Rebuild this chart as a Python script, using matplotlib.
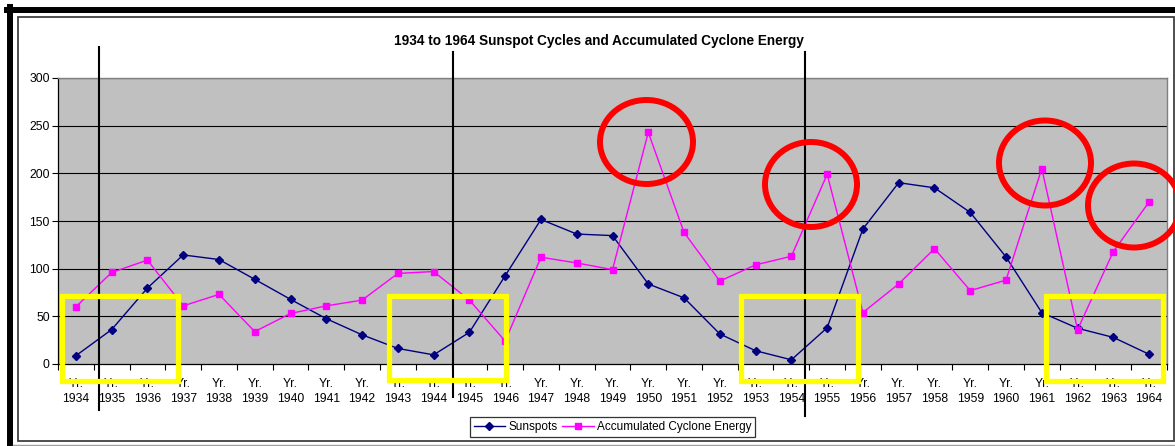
import matplotlib
matplotlib.use("Agg")
import matplotlib.pyplot as plt
from matplotlib.patches import Rectangle, Ellipse
from matplotlib.lines import Line2D

years = list(range(1934, 1965))
tick_labels = [f"Yr.\n{y}" for y in years]
sunspots = [8.7, 36.1, 79.7, 114.4, 109.6, 88.8, 67.8, 47.5, 30.6, 16.3, 9.6,
            33.2, 92.6, 151.6, 136.3, 134.7, 83.9, 69.4, 31.5, 13.9, 4.4,
            38.0, 141.7, 190.2, 184.8, 159.0, 112.3, 53.9, 37.5, 27.9, 10.2]
ace = [60, 96, 109, 61, 73, 34, 53, 61, 67, 95, 97,
       67, 24, 112, 106, 99, 243, 138, 87, 104, 113,
       199, 54, 84, 121, 77, 88, 205, 36, 118, 170]
title = "1934 to 1964 Sunspot Cycles and Accumulated Cyclone Energy"
series_names = ["Sunspots", "Accumulated Cyclone Energy"]

plt.rcParams['font.family'] = ['Liberation Sans', 'DejaVu Sans']

W, H = 1175, 446
fig = plt.figure(figsize=(W / 100, H / 100), dpi=100)

def fx(x):
    return x / W

def fy(y):
    return 1 - y / H

# plot area
L, R, T, B = 58, 1167, 78, 364
ax = fig.add_axes([fx(L), fy(B), fx(R - L), (B - T) / H])
ax.set_facecolor('#C0C0C0')
x = list(range(len(years)))
ax.plot(x, sunspots, color='#000080', lw=1.0, marker='D', ms=4.2,
        label=series_names[0], zorder=3)
ax.plot(x, ace, color='#FF00FF', lw=1.0, marker='s', ms=4.5,
        label=series_names[1], zorder=3)
ax.set_xlim(-0.5, len(years) - 0.5)
ax.set_ylim(0, 300)
ax.set_yticks(range(0, 301, 50))
ax.set_xticks(x)
ax.set_xticklabels(tick_labels, fontsize=8.7, linespacing=1.35)
ax.set_xticks([i - 0.5 for i in range(len(years) + 1)], minor=True)
ax.tick_params(axis='x', which='major', length=0, pad=10)
ax.tick_params(axis='x', which='minor', length=4, width=0.8, direction='out')
ax.tick_params(axis='y', length=4, width=0.8, labelsize=8.7, pad=2)
for yv in range(50, 301, 50):
    ax.axhline(yv, color='#000000', lw=0.8, zorder=1)
for s in ['top', 'right']:
    ax.spines[s].set_color('#808080')
    ax.spines[s].set_linewidth(1.0)
for s in ['left', 'bottom']:
    ax.spines[s].set_color('#000000')
    ax.spines[s].set_linewidth(0.9)

leg = ax.legend(loc='center', bbox_to_anchor=(fx(612.5), fy(427)),
                bbox_transform=fig.transFigure, ncol=2, fontsize=8.5,
                frameon=True, fancybox=False, edgecolor='black',
                borderpad=0.3, handlelength=2.7, handletextpad=0.25,
                columnspacing=0.4, borderaxespad=0)
leg.get_frame().set_linewidth(0.9)

fig.text(fx(599), fy(41), title, ha='center', va='center',
         fontsize=9.8, fontweight='bold')

# frame borders
fig.add_artist(Line2D([fx(7), 1], [fy(10), fy(10)], color='black', lw=4.3))
fig.add_artist(Line2D([fx(10), fx(10)], [fy(7), 0], color='black', lw=4.3))
fig.add_artist(Rectangle((fx(18), fy(441)), fx(1174 - 18), (441 - 17) / H,
                         fill=False, edgecolor='#404040', lw=1.3))
fig.add_artist(Line2D([fx(13), 1], [fy(445), fy(445)], color='#A0A0A0', lw=1.0))

# vertical annotation lines
for xp, y0, y1 in [(98.5, 47, 410), (453, 52, 397), (805, 52, 416)]:
    fig.add_artist(Line2D([fx(xp), fx(xp)], [fy(y1), fy(y0)], color='black',
                          lw=1.5, zorder=5))

# yellow rectangles
for x0, x1, y0, y1 in [(61.5, 177.5, 295.5, 380.5), (389, 505.5, 295.5, 379.5),
                       (740.5, 857.5, 295.5, 380.5), (1045.5, 1162.5, 295.5, 381)]:
    fig.add_artist(Rectangle((fx(x0), fy(y1)), fx(x1 - x0), (y1 - y0) / H,
                             fill=False, edgecolor='#FFFF00', lw=3.8, zorder=10))

# red ellipses
for cx, cy, w, h in [(646.5, 142, 93, 84), (811, 184.5, 92, 85),
                     (1045, 163, 92, 85), (1134, 205.5, 92, 84)]:
    fig.add_artist(Ellipse((fx(cx), fy(cy)), fx(w), h / H, fill=False,
                           edgecolor='#FF0000', lw=4.3, zorder=10))

fig.savefig('out.png', dpi=100)
